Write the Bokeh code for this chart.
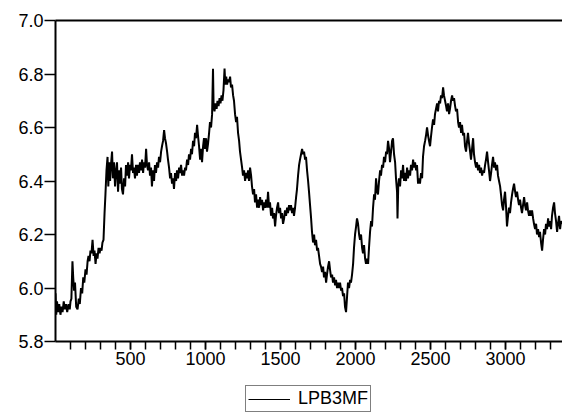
from bokeh.plotting import figure
from bokeh.layouts import column
from bokeh.models import (FixedTicker, PrintfTickFormatter, Legend, LegendItem,
                          Range1d, LinearAxis)
from bokeh.embed import file_html
from bokeh.resources import INLINE

series_name = "LPB3MF"

obs = [
    0, 5, 10, 18, 25, 33, 40, 47, 55, 62, 70, 78, 87, 95, 100, 106, 113, 118, 124, 130,
    138, 147, 155, 162, 170, 178, 185, 192, 200, 207, 214, 220, 227, 233, 240, 247, 254, 260, 267, 274,
    280, 287, 294, 300, 307, 313, 320, 327, 333, 340, 347, 352, 358, 364, 370, 377, 383, 390, 397, 404,
    410, 417, 424, 430, 437, 443, 450, 457, 464, 470, 477, 484, 490, 497, 503, 510, 517, 523, 530, 537,
    543, 550, 557, 563, 570, 577, 584, 590, 597, 604, 610, 617, 624, 630, 637, 643, 650, 657, 663, 670,
    677, 684, 690, 697, 704, 710, 717, 724, 730, 737, 744, 750, 757, 764, 770, 777, 784, 790, 797, 804,
    810, 817, 824, 830, 837, 844, 850, 857, 864, 870, 877, 884, 890, 897, 904, 910, 917, 924, 930, 937,
    944, 950, 957, 964, 970, 977, 984, 990, 997, 1004, 1010, 1017, 1024, 1030, 1037, 1044, 1050, 1054, 1060, 1067,
    1074, 1080, 1087, 1094, 1100, 1107, 1113, 1120, 1127, 1132, 1138, 1144, 1150, 1157, 1164, 1170, 1177, 1184, 1190, 1197,
    1204, 1210, 1217, 1224, 1230, 1237, 1244, 1250, 1257, 1264, 1270, 1277, 1284, 1290, 1297, 1304, 1310, 1317, 1324, 1330,
    1337, 1344, 1350, 1357, 1364, 1370, 1377, 1384, 1390, 1397, 1404, 1410, 1417, 1424, 1430, 1437, 1444, 1450, 1457, 1464,
    1470, 1477, 1484, 1490, 1497, 1504, 1510, 1517, 1524, 1530, 1537, 1544, 1550, 1557, 1564, 1570, 1577, 1584, 1590, 1597,
    1604, 1610, 1617, 1624, 1630, 1637, 1644, 1650, 1657, 1664, 1670, 1677, 1684, 1690, 1697, 1704, 1710, 1717, 1724, 1730,
    1737, 1744, 1750, 1757, 1764, 1770, 1777, 1784, 1790, 1797, 1804, 1810, 1817, 1824, 1830, 1837, 1844, 1850, 1857, 1864,
    1870, 1877, 1884, 1890, 1897, 1904, 1910, 1917, 1924, 1930, 1937, 1944, 1950, 1957, 1964, 1970, 1977, 1984, 1990, 1997,
    2004, 2010, 2017, 2024, 2030, 2037, 2044, 2050, 2057, 2064, 2070, 2077, 2084, 2090, 2097, 2104, 2110, 2117, 2124, 2130,
    2137, 2144, 2150, 2157, 2164, 2170, 2177, 2184, 2190, 2197, 2204, 2210, 2217, 2224, 2230, 2237, 2244, 2250, 2257, 2264,
    2270, 2277, 2280, 2285, 2290, 2297, 2304, 2310, 2317, 2324, 2330, 2337, 2344, 2350, 2357, 2364, 2370, 2377, 2384, 2390,
    2397, 2404, 2410, 2417, 2424, 2430, 2437, 2444, 2450, 2457, 2464, 2470, 2477, 2484, 2490, 2497, 2504, 2510, 2517, 2524,
    2530, 2537, 2544, 2550, 2557, 2564, 2570, 2577, 2584, 2590, 2597, 2604, 2610, 2617, 2624, 2630, 2637, 2644, 2650, 2657,
    2664, 2670, 2677, 2684, 2690, 2697, 2704, 2710, 2717, 2724, 2730, 2737, 2744, 2750, 2757, 2764, 2770, 2777, 2784, 2790,
    2797, 2804, 2810, 2817, 2824, 2830, 2837, 2844, 2850, 2857, 2864, 2870, 2877, 2884, 2890, 2897, 2904, 2910, 2917, 2924,
    2930, 2937, 2944, 2950, 2957, 2964, 2970, 2977, 2984, 2990, 2997, 3004, 3010, 3017, 3024, 3030, 3037, 3044, 3050, 3057,
    3064, 3070, 3077, 3084, 3090, 3097, 3104, 3110, 3117, 3124, 3130, 3137, 3144, 3150, 3157, 3164, 3170, 3177, 3184, 3190,
    3197, 3204, 3210, 3217, 3224, 3230, 3237, 3244, 3250, 3257, 3264, 3270, 3277, 3284, 3290, 3297, 3304, 3310, 3317, 3324,
    3330, 3337, 3344, 3350, 3357, 3364, 3370, 3380,
]

lpb3mf = [
    5.98, 5.90, 5.95, 5.91, 5.94, 5.90, 5.93, 5.91, 5.95, 5.92, 5.94, 5.91, 5.94, 5.92, 5.95, 5.96, 6.10, 6.04, 5.99, 6.02,
    5.93, 5.92, 5.96, 5.94, 6.00, 5.98, 6.04, 6.02, 6.07, 6.05, 6.10, 6.12, 6.10, 6.14, 6.13, 6.18, 6.12, 6.14, 6.09, 6.13,
    6.11, 6.15, 6.13, 6.15, 6.14, 6.17, 6.18, 6.28, 6.35, 6.44, 6.49, 6.38, 6.47, 6.40, 6.46, 6.51, 6.41, 6.47, 6.38, 6.44,
    6.47, 6.36, 6.44, 6.39, 6.45, 6.37, 6.35, 6.41, 6.38, 6.46, 6.42, 6.47, 6.41, 6.46, 6.44, 6.50, 6.43, 6.45, 6.41, 6.46,
    6.42, 6.46, 6.43, 6.47, 6.44, 6.48, 6.43, 6.47, 6.45, 6.52, 6.46, 6.44, 6.47, 6.42, 6.45, 6.38, 6.44, 6.40, 6.46, 6.43,
    6.47, 6.45, 6.49, 6.47, 6.51, 6.53, 6.55, 6.59, 6.56, 6.54, 6.51, 6.48, 6.45, 6.41, 6.43, 6.39, 6.41, 6.37, 6.43, 6.40,
    6.44, 6.41, 6.45, 6.43, 6.46, 6.42, 6.44, 6.42, 6.45, 6.44, 6.48, 6.46, 6.50, 6.48, 6.52, 6.50, 6.55, 6.53, 6.58, 6.56,
    6.61, 6.57, 6.53, 6.48, 6.52, 6.47, 6.53, 6.56, 6.52, 6.56, 6.51, 6.54, 6.58, 6.62, 6.60, 6.65, 6.82, 6.68, 6.66, 6.69,
    6.67, 6.70, 6.68, 6.71, 6.69, 6.72, 6.70, 6.74, 6.82, 6.76, 6.79, 6.76, 6.78, 6.77, 6.79, 6.75, 6.76, 6.72, 6.70, 6.65,
    6.62, 6.64, 6.58, 6.55, 6.51, 6.48, 6.45, 6.42, 6.44, 6.40, 6.43, 6.41, 6.44, 6.40, 6.45, 6.42, 6.38, 6.35, 6.37, 6.32,
    6.35, 6.30, 6.33, 6.30, 6.34, 6.31, 6.33, 6.29, 6.32, 6.30, 6.33, 6.30, 6.36, 6.30, 6.32, 6.27, 6.30, 6.26, 6.28, 6.23,
    6.27, 6.30, 6.32, 6.28, 6.30, 6.26, 6.28, 6.24, 6.26, 6.29, 6.27, 6.30, 6.28, 6.31, 6.29, 6.31, 6.28, 6.30, 6.27, 6.30,
    6.34, 6.37, 6.42, 6.46, 6.48, 6.50, 6.52, 6.50, 6.51, 6.48, 6.49, 6.44, 6.40, 6.36, 6.31, 6.26, 6.21, 6.17, 6.20, 6.16,
    6.18, 6.14, 6.15, 6.12, 6.09, 6.08, 6.06, 6.08, 6.04, 6.06, 6.02, 6.05, 6.08, 6.10, 6.07, 6.04, 6.05, 6.02, 6.04, 6.01,
    6.03, 6.00, 6.02, 6.00, 6.02, 5.99, 6.00, 5.97, 5.98, 5.93, 5.91, 5.97, 6.02, 6.00, 6.03, 6.02, 6.05, 6.09, 6.15, 6.20,
    6.23, 6.26, 6.24, 6.20, 6.18, 6.20, 6.15, 6.13, 6.16, 6.11, 6.09, 6.11, 6.09, 6.15, 6.21, 6.25, 6.23, 6.30, 6.35, 6.33,
    6.41, 6.36, 6.35, 6.40, 6.44, 6.42, 6.46, 6.45, 6.49, 6.47, 6.51, 6.50, 6.55, 6.52, 6.47, 6.51, 6.55, 6.56, 6.50, 6.47,
    6.41, 6.36, 6.26, 6.38, 6.41, 6.38, 6.44, 6.41, 6.46, 6.40, 6.43, 6.40, 6.45, 6.41, 6.44, 6.42, 6.46, 6.44, 6.48, 6.45,
    6.47, 6.44, 6.46, 6.39, 6.41, 6.39, 6.43, 6.41, 6.49, 6.53, 6.55, 6.57, 6.60, 6.57, 6.55, 6.53, 6.57, 6.60, 6.63, 6.61,
    6.65, 6.67, 6.69, 6.66, 6.70, 6.69, 6.72, 6.71, 6.75, 6.72, 6.70, 6.68, 6.66, 6.69, 6.65, 6.67, 6.70, 6.72, 6.70, 6.71,
    6.68, 6.66, 6.67, 6.62, 6.60, 6.62, 6.58, 6.61, 6.57, 6.58, 6.53, 6.51, 6.55, 6.58, 6.54, 6.51, 6.48, 6.52, 6.56, 6.50,
    6.47, 6.45, 6.47, 6.44, 6.46, 6.43, 6.45, 6.42, 6.44, 6.43, 6.46, 6.48, 6.51, 6.47, 6.44, 6.40, 6.43, 6.46, 6.49, 6.45,
    6.47, 6.44, 6.46, 6.42, 6.40, 6.38, 6.35, 6.31, 6.29, 6.33, 6.36, 6.30, 6.23, 6.27, 6.30, 6.28, 6.32, 6.35, 6.37, 6.39,
    6.36, 6.34, 6.36, 6.33, 6.31, 6.33, 6.30, 6.28, 6.31, 6.34, 6.31, 6.29, 6.32, 6.29, 6.27, 6.29, 6.27, 6.29, 6.26, 6.24,
    6.22, 6.24, 6.20, 6.22, 6.19, 6.21, 6.17, 6.14, 6.18, 6.22, 6.20, 6.24, 6.22, 6.26, 6.23, 6.25, 6.22, 6.27, 6.30, 6.32,
    6.28, 6.25, 6.21, 6.24, 6.27, 6.22, 6.25, 6.24,
]

x_major_ticks = [500, 1000, 1500, 2000, 2500, 3000]
x_minor_ticks = [100 * k for k in range(1, 34)]
y_major_ticks = [5.8, 6.0, 6.2, 6.4, 6.6, 6.8, 7.0]

FONT = "Liberation Sans"

p = figure(width=562, height=378, output_backend="svg", toolbar_location=None,
           x_range=Range1d(0, 3380), y_range=Range1d(5.8, 7.0),
           min_border_left=55, min_border_right=0, min_border_top=20,
           min_border_bottom=37, x_axis_location=None, y_axis_location=None)
p.grid.visible = False
p.outline_line_color = None
p.background_fill_color = "white"
p.border_fill_color = "white"

r = p.line(obs, lpb3mf, line_color="black", line_width=2)

xaxis = LinearAxis(ticker=FixedTicker(ticks=x_major_ticks, minor_ticks=x_minor_ticks))
xaxis.axis_line_width = 2
xaxis.axis_line_color = "black"
xaxis.major_tick_line_width = 1.5
xaxis.minor_tick_line_width = 1.5
xaxis.major_tick_out = 8
xaxis.major_tick_in = 0
xaxis.minor_tick_out = 8
xaxis.minor_tick_in = 0
xaxis.major_label_standoff = 2
xaxis.major_label_text_font = FONT
xaxis.major_label_text_font_size = "18px"
xaxis.major_label_text_color = "black"
p.add_layout(xaxis, "below")

yaxis = LinearAxis(ticker=FixedTicker(ticks=y_major_ticks, minor_ticks=[]),
                   formatter=PrintfTickFormatter(format="%.1f"))
yaxis.axis_line_width = 2
yaxis.axis_line_color = "black"
yaxis.major_tick_line_width = 1.5
yaxis.major_tick_out = 11
yaxis.major_tick_in = 0
yaxis.minor_tick_out = 0
yaxis.minor_tick_in = 0
yaxis.major_label_standoff = 1
yaxis.major_label_text_font = FONT
yaxis.major_label_text_font_size = "18px"
yaxis.major_label_text_color = "black"
p.add_layout(yaxis, "left")

top = LinearAxis(ticker=FixedTicker(ticks=[], minor_ticks=[]))
top.axis_line_width = 2
top.axis_line_color = "black"
top.major_tick_out = 0
top.major_tick_in = 0
top.minor_tick_out = 0
top.minor_tick_in = 0
top.major_label_text_font_size = "0px"
top.major_label_standoff = 0
p.add_layout(top, "above")

# Legend strip below the chart (its sample line holds the first observation,
# which lies outside this strip's range, so only the legend key shows)
lf = figure(width=562, height=35, output_backend="svg", toolbar_location=None,
            x_range=Range1d(0, 1), y_range=Range1d(0, 1),
            min_border_left=0, min_border_right=0, min_border_top=0,
            min_border_bottom=0, x_axis_location=None, y_axis_location=None)
lf.grid.visible = False
lf.outline_line_color = None
lf.background_fill_color = "white"
lf.border_fill_color = "white"
lr = lf.line(x=obs[:1], y=lpb3mf[:1], line_color="black", line_width=1.2)

legend = Legend(items=[LegendItem(label=series_name, renderers=[lr])],
                location=(190, 1), orientation="horizontal")
legend.border_line_color = "black"
legend.border_line_width = 1.5
legend.background_fill_alpha = 1.0
legend.padding = 2
legend.margin = 0
legend.spacing = 0
legend.glyph_width = 42
legend.glyph_height = 16
legend.label_height = 16
legend.label_standoff = 8
legend.label_text_font = FONT
legend.label_text_font_size = "18px"
legend.label_text_color = "black"
legend.label_text_baseline = "middle"
lf.add_layout(legend, "center")

layout = column(p, lf, spacing=0)
open("out.html", "w").write(file_html(layout, INLINE))
